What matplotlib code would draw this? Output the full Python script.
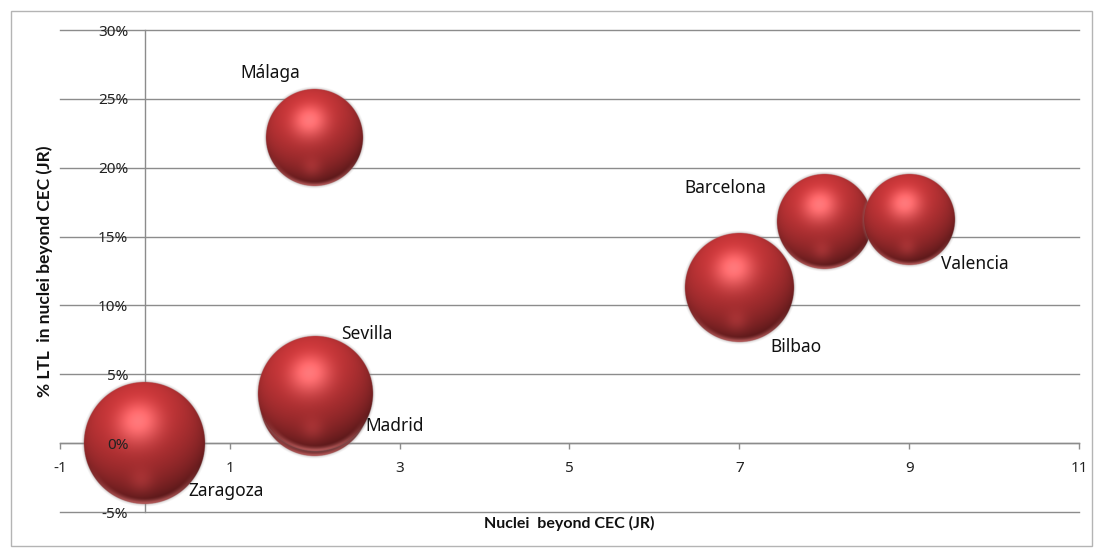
import numpy as np
import matplotlib
matplotlib.use("Agg")
import matplotlib.pyplot as plt
from matplotlib.ticker import FixedLocator, FuncFormatter
from matplotlib.patches import Rectangle

# ---- data ----
cities = ["Zaragoza", "Madrid", "Sevilla", "Málaga", "Barcelona", "Valencia", "Bilbao"]
nuclei_beyond_cec = [0, 2, 2, 2, 8, 9, 7]
ltl_pct = [0.0, 3.0, 3.6, 22.2, 16.1, 16.2, 11.3]
bubble_size = [100, 81, 89, 64, 61, 56, 81]
x_ticks = [-1, 1, 3, 5, 7, 9, 11]
y_ticks = [-5, 0, 5, 10, 15, 20, 25, 30]

# label offsets in pixels (dx, dy) and horizontal alignment (style only)
label_style = {
    "Zaragoza": (43, -48, "left"),
    "Madrid": (51, -24, "left"),
    "Sevilla": (26, 60, "left"),
    "Málaga": (-45, 64, "center"),
    "Barcelona": (-58, 33, "right"),
    "Valencia": (32, -44, "left"),
    "Bilbao": (31, -59, "left"),
}

W, H, DPI = 1102, 556, 100
fig = plt.figure(figsize=(W / DPI, H / DPI), dpi=DPI)
fig.patch.set_facecolor("white")
ax = fig.add_axes([60 / W, 1 - 512 / H, (1079 - 60) / W, (512 - 30) / H])
XLIM, YLIM = (-1, 11), (-5, 30)
ax.set_xlim(*XLIM)
ax.set_ylim(*YLIM)
ax.set_facecolor("none")

# outer chart border
fig.patches.append(Rectangle((11 / W, 1 - 546 / H), (1092 - 11) / W, (546 - 11) / H,
                             transform=fig.transFigure, fill=False,
                             edgecolor="#b4b4b4", linewidth=1.0))

# gridlines
for yv in y_ticks:
    ax.axhline(yv, color="#8c8c8c", linewidth=1.0, zorder=0.5, clip_on=False)

for s in ["top", "right"]:
    ax.spines[s].set_visible(False)
ax.spines["left"].set_position(("data", 0))
ax.spines["bottom"].set_position(("data", 0))
for s in ["left", "bottom"]:
    ax.spines[s].set_color("#8c8c8c")
    ax.spines[s].set_linewidth(1.0)
    ax.spines[s].set_zorder(0.6)

font = "Noto Sans"
ax.xaxis.set_major_locator(FixedLocator(x_ticks))
ax.yaxis.set_major_locator(FixedLocator(y_ticks))
ax.xaxis.set_major_formatter(FuncFormatter(lambda v, p: f"{v:.0f}"))
ax.yaxis.set_major_formatter(FuncFormatter(lambda v, p: f"{v:.0f}%"))
ax.tick_params(axis="x", length=4, width=1, color="#8c8c8c", pad=8.5,
               labelsize=11, labelcolor="#222222", direction="out")
ax.tick_params(axis="y", length=0, pad=12, labelsize=11, labelcolor="#222222")
for lab in ax.get_xticklabels() + ax.get_yticklabels():
    lab.set_fontfamily(font)
ax.xaxis.set_zorder(10)
ax.yaxis.set_zorder(10)


def sphere_rgba(r_px, margin):
    """Shaded sphere image covering [-R, R] display pixels, R = r_px + margin."""
    R = r_px + margin
    n = int(np.ceil(2 * R * 2))
    g = np.linspace(-R, R, n)
    U, V = np.meshgrid(g, g)          # V grows upward (origin='lower')
    D = np.sqrt(U ** 2 + V ** 2)
    u, v = U / r_px, V / r_px
    d = D / r_px
    z = np.sqrt(np.clip(1 - d ** 2, 0, 1))
    L = np.array([-0.19, 0.65, 0.73]); L /= np.linalg.norm(L)
    ndl = u * L[0] + v * L[1] + z * L[2]
    wrap = np.clip((ndl + 0.6) / 1.6, 0, 1)
    I = 0.33 + 0.67 * wrap
    base = np.array([0.81, 0.22, 0.23])
    rgb = base[None, None, :] * I[..., None]
    # soft specular highlight
    Hv = np.array([-0.10, 0.35, 0.93]); Hv /= np.linalg.norm(Hv)
    ndh = np.clip(u * Hv[0] + v * Hv[1] + z * Hv[2], 0, 1)
    spec = ndh ** 16
    rgb += spec[..., None] * np.array([0.26, 0.26, 0.26])
    # faint lower reflection spot
    spot = np.exp(-((u + 0.05) ** 2 + (v + 0.62) ** 2) / 0.04)
    rgb += spot[..., None] * np.array([0.10, 0.05, 0.05])
    # bottom reflection lip
    lip = np.clip((-v - 0.35) / 0.65, 0, 1) * np.clip((d - 0.90) / 0.07, 0, 1)
    mix = (lip ** 1.2 * 0.85)[..., None]
    rgb = rgb * (1 - mix) + mix * np.array([0.76, 0.38, 0.38])
    rgb = np.clip(rgb, 0, 1)
    alpha = np.clip(r_px - D + 0.5, 0, 1)
    # soft grey halo
    halo = np.clip(1 - (D - r_px) / margin, 0, 1) * (D >= r_px - 0.5) * 0.3
    out = np.zeros((n, n, 4))
    out[..., :3] = rgb * alpha[..., None] + np.array([0.55, 0.5, 0.5]) * (1 - alpha[..., None])
    out[..., 3] = np.maximum(alpha, halo)
    return out


px_per_pt = DPI / 72.0
rmax_px = 61.0
margin = 2.5
inv = ax.transData.inverted()
for i, (c, xv, yv, sz) in enumerate(zip(cities, nuclei_beyond_cec, ltl_pct, bubble_size)):
    r_px = rmax_px * np.sqrt(sz / max(bubble_size))
    R = r_px + margin
    cx, cy = ax.transData.transform((xv, yv))
    (x0, y0), (x1, y1) = inv.transform([(cx - R, cy - R), (cx + R, cy + R)])
    ax.imshow(sphere_rgba(r_px, margin), extent=[x0, x1, y0, y1], origin="lower",
              aspect="auto", interpolation="antialiased", zorder=2 + i * 0.1,
              clip_on=False)
    dxp, dyp, ha = label_style[c]
    ax.annotate(c, (xv, yv), xytext=(dxp / px_per_pt, dyp / px_per_pt),
                textcoords="offset points", ha=ha, va="center",
                fontsize=12.5, family=font, color="#111111", zorder=20)

ax.set_xlim(*XLIM)
ax.set_ylim(*YLIM)

fig.text(569 / W, 1 - 523 / H, "Nuclei  beyond CEC (JR)", ha="center", va="center",
         fontsize=11.5, fontweight="bold", family="Lato", color="#111111")
fig.text(45 / W, 1 - 271 / H, "% LTL  in nuclei beyond CEC (JR)", ha="center",
         va="center", rotation=90, fontsize=12.5, fontweight="bold", family="Lato",
         color="#111111")

fig.savefig("out.png", dpi=DPI)
